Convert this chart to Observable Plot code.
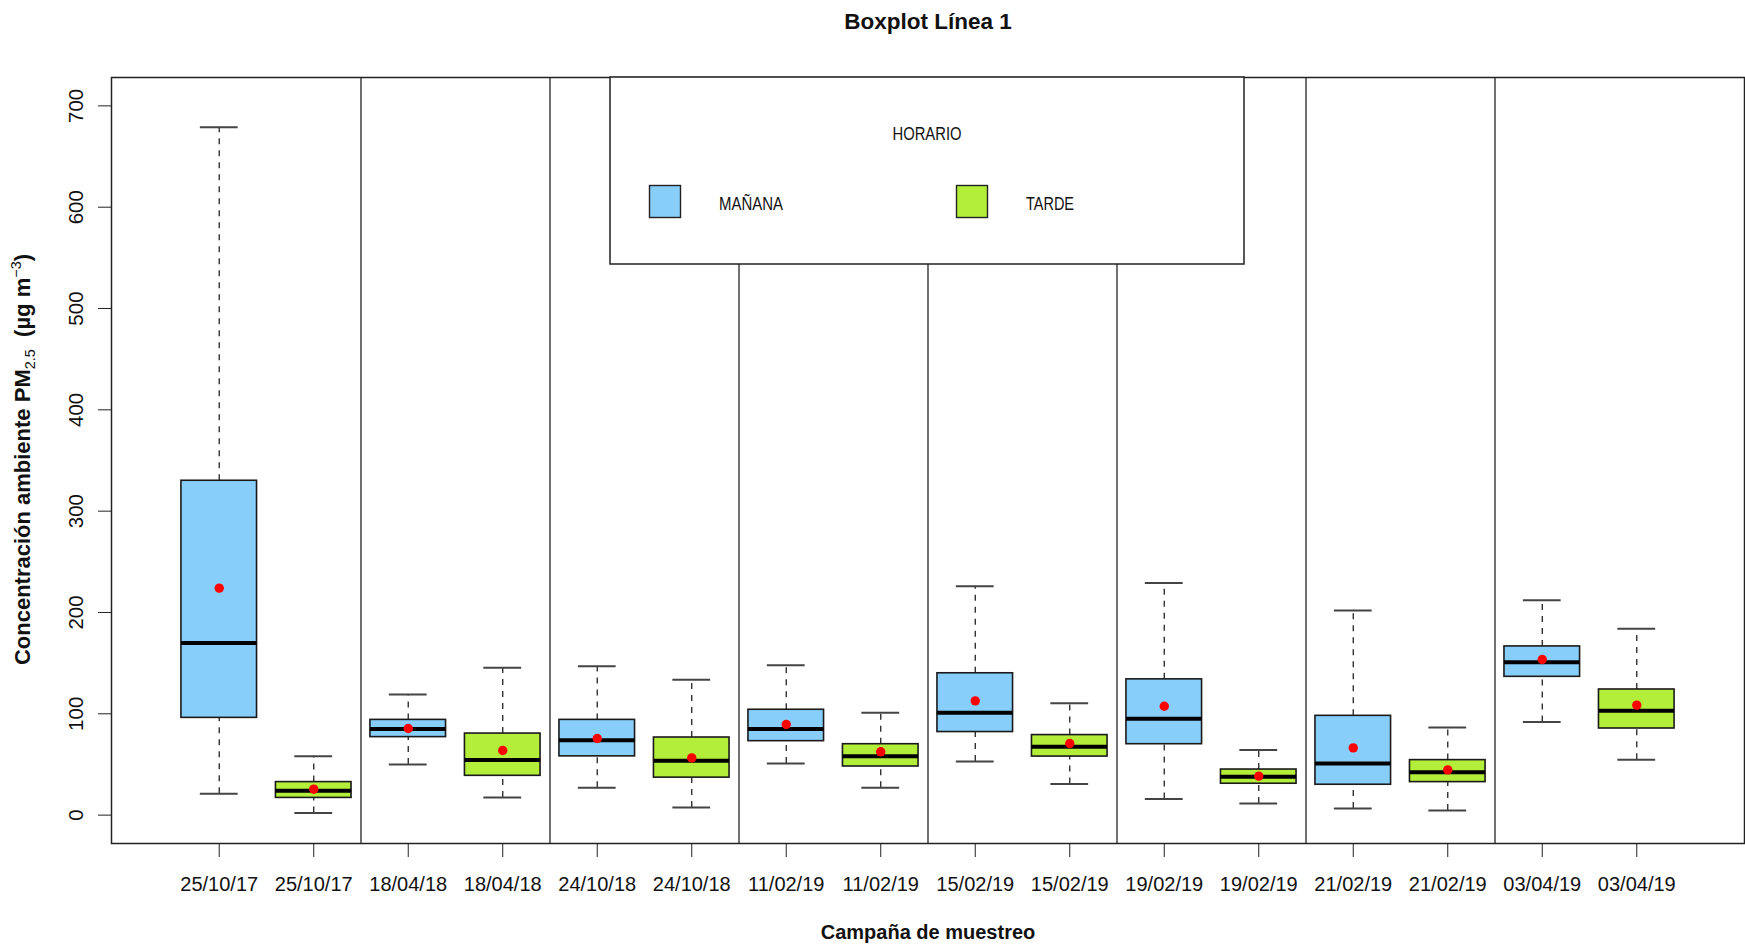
<!DOCTYPE html>
<html>
<head>
<meta charset="utf-8">
<script src="https://cdn.jsdelivr.net/npm/d3@7"></script>
<script src="https://cdn.jsdelivr.net/npm/@observablehq/plot@0.6"></script>
<style>
  html, body { margin: 0; padding: 0; background: #fff; }
  #chart { width: 1745px; height: 946px; }
</style>
</head>
<body>
<div id="chart"></div>
<script>
// Sampling campaigns (line 1) and time of day
const campaigns = ["25/10/17", "18/04/18", "24/10/18", "11/02/19", "15/02/19", "19/02/19", "21/02/19", "03/04/19"];
const periods = ["MAÑANA", "TARDE"];
const periodColors = ["#87CEFA", "#B3EE3A"];

// Box statistics, ordered campaign by campaign: MAÑANA then TARDE (µg m-3)
const whiskerLow  = [21, 2,    50, 17.4,  27, 7.5,   51, 27,   53, 30.6,  16, 11.5,  6.5, 4.5,  92, 54.6];
const quart1      = [96, 17,   77, 38.8,  58, 37,    73, 48,   82, 57.8,  70, 31,    30, 32.6,  136.5, 85.5];
const medians     = [170, 24,  85, 54.3,  74, 53.6,  85, 58,   101, 67.4, 95, 37.8,  51, 42.4,  151, 103];
const quart3      = [330, 32.6, 94, 80.5, 94, 76.6,  104, 70,  140, 79,   134, 45,   98, 54.3,  166.5, 124];
const whiskerHigh = [679, 58,  119, 145.4, 147, 133.5, 148, 101, 226, 110.5, 229, 64.4, 202, 86.5, 212, 184];
const means       = [224, 25.6, 85.5, 63.8, 75.6, 56.5, 89.4, 62.5, 112.8, 70.7, 107.5, 38.5, 66.4, 44.7, 153.6, 108.6];

const yTicks = [0, 100, 200, 300, 400, 500, 600, 700];

const titleText = "Boxplot Línea 1";
const xTitle = "Campaña de muestreo";
const legendTitle = "HORARIO";

const rows = campaigns.flatMap((c, i) => periods.map((p, j) => {
  const k = i * 2 + j;
  return {
    pos: k + 1, campaign: c, period: p,
    lo: whiskerLow[k], q1: quart1[k], med: medians[k], q3: quart3[k], hi: whiskerHigh[k], mean: means[k]
  };
}));
const separators = d3.range(1, campaigns.length).map(i => i * 2 + 0.5);

const boxHalf = 0.4, capHalf = 0.2;
const font = "'Liberation Sans', Arial, sans-serif";

const chart = Plot.plot({
  width: 1745,
  height: 946,
  marginTop: 77,
  marginLeft: 111,
  marginRight: 1,
  marginBottom: 103,
  style: {fontFamily: font, fontSize: "20px", color: "#111", background: "#fff", overflow: "visible"},
  x: {domain: [-0.14, rows.length + 1.14]},
  y: {domain: [-28, 728]},
  color: {domain: periods, range: periodColors},
  marks: [
    Plot.ruleX(separators, {x: d => d, stroke: "#333", strokeWidth: 1.4}),
    // dashed whiskers
    Plot.ruleX(rows, {x: "pos", y1: "q3", y2: "hi", stroke: "#222", strokeWidth: 1.3, strokeDasharray: "6,6"}),
    Plot.ruleX(rows, {x: "pos", y1: "lo", y2: "q1", stroke: "#222", strokeWidth: 1.3, strokeDasharray: "6,6"}),
    // whisker caps
    Plot.ruleY(rows, {y: "hi", x1: d => d.pos - capHalf, x2: d => d.pos + capHalf, stroke: "#444", strokeWidth: 2}),
    Plot.ruleY(rows, {y: "lo", x1: d => d.pos - capHalf, x2: d => d.pos + capHalf, stroke: "#444", strokeWidth: 2}),
    // boxes
    Plot.rect(rows, {x1: d => d.pos - boxHalf, x2: d => d.pos + boxHalf, y1: "q1", y2: "q3",
      fill: "period", stroke: "#1a1a1a", strokeWidth: 1.6}),
    // medians
    Plot.ruleY(rows, {y: "med", x1: d => d.pos - boxHalf, x2: d => d.pos + boxHalf, stroke: "#000", strokeWidth: 4}),
    // means
    Plot.dot(rows, {x: "pos", y: "mean", r: 4.7, fill: "#FF0000", stroke: null}),
    Plot.axisX({ticks: rows.map(d => d.pos), tickFormat: p => rows[p - 1].campaign, tickSize: 14, tickPadding: 19,
      fontSize: 20, label: null, stroke: "#222"}),
    Plot.axisY({ticks: yTicks, tickSize: 13, tickPadding: 15.5, tickRotate: -90, fontSize: 20.5, label: null, stroke: "#222"}),
    Plot.frame({stroke: "#222", strokeWidth: 1.5}),
    Plot.text([titleText], {frameAnchor: "top", dy: -48.7, lineAnchor: "bottom", text: d => d,
      fontSize: 22.5, fontWeight: "bold"}),
    Plot.text([xTitle], {frameAnchor: "bottom", dy: 95, lineAnchor: "bottom", text: d => d,
      fontSize: 20, fontWeight: "bold"})
  ]
});

document.getElementById("chart").append(chart);

const svg = d3.select(chart);

// Y axis title with subscript and superscript
const yt = svg.append("text")
  .attr("transform", "translate(30,459.5) rotate(-90)")
  .attr("text-anchor", "middle")
  .attr("font-family", font)
  .attr("font-size", 22)
  .attr("font-weight", "bold")
  .attr("fill", "#111");
yt.append("tspan").text("Concentración ambiente PM");
yt.append("tspan").attr("font-size", 14.5).attr("font-weight", "normal").attr("dy", 5).text("2.5");
yt.append("tspan").attr("dy", -5).text("\u00a0\u00a0(µg m");
yt.append("tspan").attr("font-size", 14.5).attr("font-weight", "normal").attr("dy", -9).text("−3");
yt.append("tspan").attr("dy", 9).text(")");

// Legend box inside the plot frame
const lg = svg.append("g").attr("font-family", font).attr("fill", "#111");
lg.append("rect").attr("x", 610).attr("y", 77).attr("width", 634).attr("height", 187)
  .attr("fill", "#fff").attr("stroke", "#222").attr("stroke-width", 1.5);
lg.append("text").attr("x", 927).attr("y", 140).attr("text-anchor", "middle")
  .attr("font-size", 18).attr("textLength", 69).attr("lengthAdjust", "spacingAndGlyphs").text(legendTitle);
const labelWidths = [64, 48];
periods.forEach((p, i) => {
  const x0 = 649.5 + i * 307;
  lg.append("rect").attr("x", x0).attr("y", 185.5).attr("width", 31).attr("height", 32)
    .attr("fill", periodColors[i]).attr("stroke", "#222").attr("stroke-width", 1.4);
  lg.append("text").attr("x", x0 + 69.5).attr("y", 209.5).attr("text-anchor", "start").attr("font-size", 18)
    .attr("textLength", labelWidths[i]).attr("lengthAdjust", "spacingAndGlyphs").text(p);
});
</script>
</body>
</html>
